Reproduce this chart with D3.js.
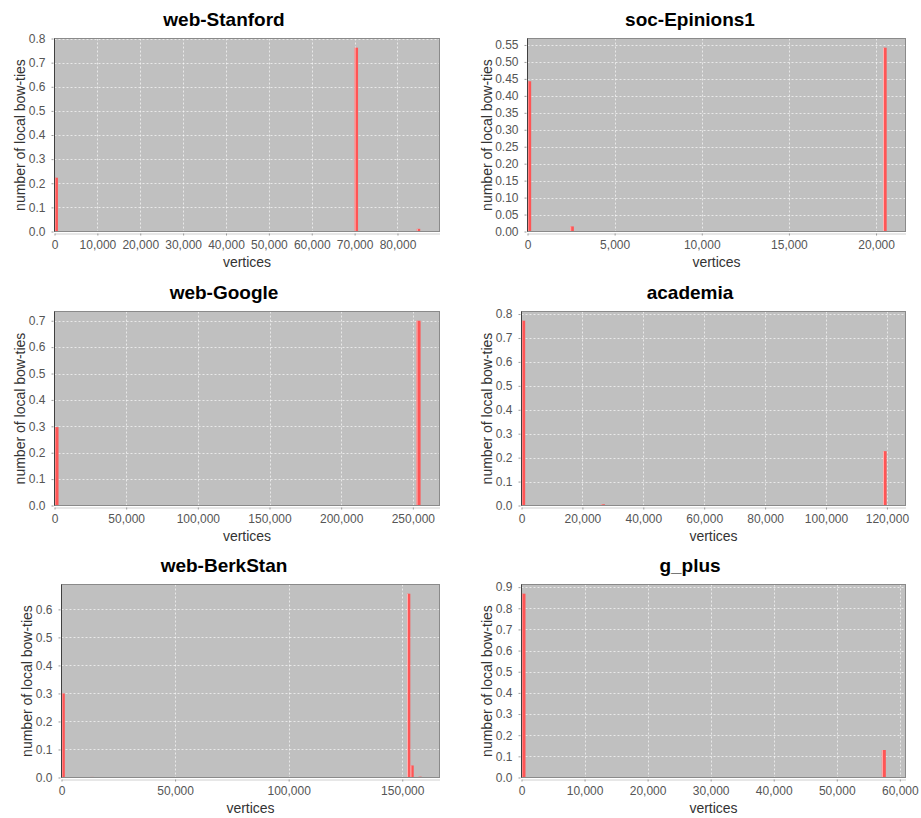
<!DOCTYPE html>
<html>
<head>
<meta charset="utf-8">
<script src="https://cdn.jsdelivr.net/npm/d3@7"></script>
<style>
  html, body { margin: 0; padding: 0; background: #fff; }
  svg { display: block; }
</style>
</head>
<body>
<svg id="chart" width="921" height="818"></svg>
<script>
// ---------- data ----------
const titles = ["web-Stanford", "soc-Epinions1", "web-Google", "academia", "web-BerkStan", "g_plus"];
const xDomainMax = [89800, 21690, 268600, 126100, 166400, 60900];
const xTickStep = [10000, 5000, 50000, 20000, 50000, 10000];
const xTickMax = [80000, 20000, 250000, 120000, 150000, 60000];
const yTickStep = [0.1, 0.05, 0.1, 0.1, 0.1, 0.1];
const yTickFormats = [".1f", ".2f", ".1f", ".1f", ".1f", ".1f"];
const binWidths = [800, 210, 2800, 1200, 1450, 630];
const binStarts = [
  [0, 70000, 84500],
  [0, 2450, 20400],
  [0, 252600],
  [0, 26200, 118700],
  [0, 12800, 152100, 153600, 157100],
  [0, 10100, 57150]
];
const binValues = [
  [0.223, 0.762, 0.011],
  [0.443, 0.015, 0.542],
  [0.297, 0.700],
  [0.772, 0.005, 0.227],
  [0.300, 0.002, 0.656, 0.043, 0.003],
  [0.869, 0.002, 0.130]
];
const xLabel = "vertices";
const yLabel = "number of local bow-ties";

// ---------- layout ----------
const plotRects = [ // left, top, right, bottom
  [54.5, 38.5, 439.5, 231.5],
  [527.5, 38.5, 905.5, 231.5],
  [54.5, 311.5, 439.5, 505.5],
  [521.5, 311.5, 905.5, 505.5],
  [61.5, 584.5, 439.5, 777.5],
  [521.5, 584.5, 905.5, 777.5]
];
const titleCX = [224, 690, 224, 690, 224, 690];
const yLabelX = [25, 491.7, 25, 491.7, 31.7, 491.7];

const FONT = "'Liberation Sans', Arial, sans-serif";
const svg = d3.select("#chart");

titles.forEach((title, i) => {
  const [L, T, R, B] = plotRects[i];
  const x = d3.scaleLinear().domain([0, xDomainMax[i]]).range([L, R]);
  const yMax = d3.max(binValues[i]) * 1.05;
  const y = d3.scaleLinear().domain([0, yMax]).range([B, T]);
  const xTicks = d3.range(0, xTickMax[i] + 1, xTickStep[i]);
  const yTicks = d3.range(0, Math.floor(yMax / yTickStep[i] + 1e-6) + 1).map(k => +(k * yTickStep[i]).toFixed(4));

  const g = svg.append("g");

  // title
  g.append("text")
    .attr("x", titleCX[i]).attr("y", T - 12.5)
    .attr("text-anchor", "middle")
    .attr("font-family", FONT).attr("font-weight", "bold").attr("font-size", 19)
    .attr("fill", "#000")
    .text(title);

  // plot background
  g.append("rect")
    .attr("x", L).attr("y", T).attr("width", R - L).attr("height", B - T)
    .attr("fill", "#c0c0c0");

  // gridlines
  g.append("g").selectAll("line").data(xTicks.filter(v => v > 0)).join("line")
    .attr("x1", d => Math.round(x(d)) + 0.5).attr("x2", d => Math.round(x(d)) + 0.5)
    .attr("y1", T).attr("y2", B)
    .attr("stroke", "#ffffff").attr("stroke-opacity", 0.65)
    .attr("stroke-dasharray", "2,2");
  g.append("g").selectAll("line").data(yTicks.filter(v => v > 0)).join("line")
    .attr("x1", L).attr("x2", R)
    .attr("y1", d => Math.round(y(d)) + 0.5).attr("y2", d => Math.round(y(d)) + 0.5)
    .attr("stroke", "#ffffff").attr("stroke-opacity", 0.65)
    .attr("stroke-dasharray", "2,2");

  // bars
  const bars = binStarts[i].map((s, k) => ({ x0: s, x1: s + binWidths[i], v: binValues[i][k] }));
  g.append("g").selectAll("rect").data(bars).join("rect")
    .attr("x", d => x(d.x0))
    .attr("width", d => Math.max(1, x(d.x1) - x(d.x0)))
    .attr("y", d => y(d.v))
    .attr("height", d => y(0) - y(d.v))
    .attr("fill", "#ff5555");
  g.append("g").selectAll("rect").data(bars).join("rect")
    .attr("x", d => x(d.x0))
    .attr("width", 1)
    .attr("y", d => y(d.v))
    .attr("height", d => y(0) - y(d.v))
    .attr("fill", "#ffb4b4");

  // outline
  g.append("rect")
    .attr("x", L).attr("y", T).attr("width", R - L).attr("height", B - T)
    .attr("fill", "none").attr("stroke", "#8a8a8a");
  // range axis line (left, dark)
  g.append("line")
    .attr("x1", L).attr("x2", L).attr("y1", T).attr("y2", B)
    .attr("stroke", "#404040");

  // x axis
  const xAxis = d3.axisBottom(x).tickValues(xTicks).tickFormat(d3.format(",")).tickSizeInner(2).tickSizeOuter(0).tickPadding(5);
  const xa = g.append("g").attr("transform", `translate(0,${B + 2})`).call(xAxis);
  xa.select(".domain").attr("stroke", "#cfcfcf");
  xa.selectAll(".tick line").attr("stroke", "#9a9a9a");
  xa.selectAll("text").attr("font-family", FONT).attr("font-size", 12).attr("fill", "#555");

  // y axis
  const yAxis = d3.axisLeft(y).tickValues(yTicks).tickFormat(d3.format(yTickFormats[i])).tickSizeInner(2).tickSizeOuter(0).tickPadding(6);
  const ya = g.append("g").attr("transform", `translate(${L - 1},0)`).call(yAxis);
  ya.select(".domain").remove();
  ya.selectAll(".tick line").attr("stroke", "#9a9a9a");
  ya.selectAll("text").attr("font-family", FONT).attr("font-size", 12).attr("fill", "#555");

  // axis labels
  g.append("text")
    .attr("x", (L + R) / 2).attr("y", B + 35)
    .attr("text-anchor", "middle")
    .attr("font-family", FONT).attr("font-size", 14).attr("fill", "#333")
    .text(xLabel);
  g.append("text")
    .attr("transform", `translate(${yLabelX[i]},${(T + B) / 2}) rotate(-90)`)
    .attr("text-anchor", "middle")
    .attr("font-family", FONT).attr("font-size", 14).attr("fill", "#333")
    .text(yLabel);
});
</script>
</body>
</html>
